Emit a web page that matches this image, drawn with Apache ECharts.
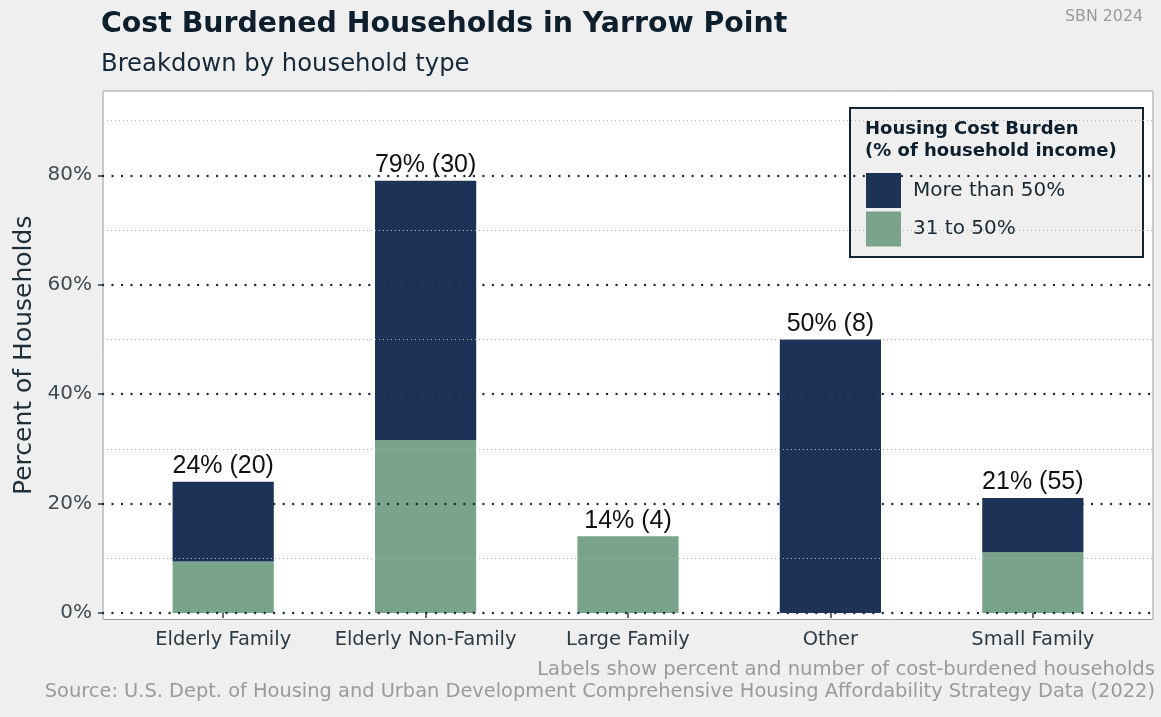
<!DOCTYPE html>
<html><head><meta charset="utf-8">
<script src="https://cdn.jsdelivr.net/npm/echarts@6/dist/echarts.min.js"></script>
<style>html,body{margin:0;padding:0;background:#efefef}#chart{width:1161px;height:717px}</style>
</head><body><div id="chart"></div>
<script>
// Household types on the x axis
const categories = ['Elderly Family', 'Elderly Non-Family', 'Large Family', 'Other', 'Small Family'];
// Percent of households paying 31-50% of income on housing
const share31to50 = [9.4, 31.6, 14, 0, 11.1];
// Percent of households paying more than 50% of income on housing
const shareOver50 = [14.6, 47.4, 0, 50, 9.9];
// Number of cost-burdened households per type
const burdenedCounts = [20, 30, 4, 8, 55];
// Y axis ticks (major) and the in-between reference lines (minor)
const yMajor = [0, 20, 40, 60, 80];
const yMinor = [10, 30, 50, 70, 90];
const seriesNames = ['More than 50%', '31 to 50%'];

const Y_MIN = -1.2, Y_MAX = 95.4;
const FONT = '"DejaVu Sans", "Noto Sans", sans-serif';
const NAVY = '#1c3256';
const GREEN = '#79a48b';

const chart = echarts.init(document.getElementById('chart'), null, { renderer: 'canvas' });

const majorStyle = { color: '#1a2b38', width: 2.4, type: [0.01, 9.5], cap: 'round' };
const minorStyle = { color: '#b3b3b3', width: 1, type: [1, 3] };

const option = {
  backgroundColor: '#efefef',
  animation: false,
  grid: [
    // panel frame and gridlines
    { left: 103, right: 8, top: 91, bottom: 97.5, show: true, backgroundColor: '#ffffff', borderColor: '#9a9a9a', borderWidth: 1, z: 0 },
    // bars
    { left: 122, right: 27, top: 91, bottom: 97.5 }
  ],
  xAxis: [
    { gridIndex: 0, type: 'value', min: 0, max: 1, show: false },
    {
      gridIndex: 1, type: 'category', data: categories,
      axisLine: { show: false },
      axisTick: { show: true, alignWithLabel: true, length: 5, lineStyle: { color: '#2b3a44', width: 1.5 } },
      axisLabel: { interval: 0, fontFamily: FONT, fontSize: 19.5, color: '#2e3b44', margin: 10 }
    }
  ],
  yAxis: [
    {
      gridIndex: 0, type: 'value', min: Y_MIN, max: Y_MAX,
      axisLine: { show: false },
      axisTick: { show: true, customValues: yMajor, length: 5, lineStyle: { color: '#2b3a44', width: 1.5 } },
      axisLabel: { customValues: yMajor, formatter: '{value}%', fontFamily: FONT, fontSize: 20, color: '#3f4b53', margin: 11 },
      splitLine: { show: false },
      name: 'Percent of Households', nameLocation: 'middle', nameGap: 64,
      nameTextStyle: { fontFamily: FONT, fontSize: 25, color: '#1f2f3a' }
    },
    { gridIndex: 1, type: 'value', min: Y_MIN, max: Y_MAX, show: false, splitLine: { show: false } }
  ],
  legend: {
    data: seriesNames, orient: 'vertical', left: 866, top: 173,
    itemWidth: 35, itemHeight: 35, itemGap: 3.5, icon: 'rect', padding: 0, z: 6,
    selectedMode: false,
    textStyle: { fontFamily: FONT, fontSize: 20, color: '#1a2a33', padding: [0, 0, 0, 7] }
  },
  series: [
    {
      name: 'gridlines', type: 'line', xAxisIndex: 0, yAxisIndex: 0, data: [], z: 1, silent: true,
      markLine: {
        silent: true, symbol: ['none', 'none'], label: { show: false }, animation: false,
        emphasis: { disabled: true },
        data: yMinor.map(v => ({ yAxis: v, lineStyle: minorStyle }))
          .concat(yMajor.map(v => ({ yAxis: v, lineStyle: majorStyle })))
      }
    },
    {
      name: '31 to 50%', type: 'bar', xAxisIndex: 1, yAxisIndex: 1, stack: 'burden',
      barWidth: '50%', data: share31to50, z: 3,
      itemStyle: { color: GREEN }
    },
    {
      name: 'More than 50%', type: 'bar', xAxisIndex: 1, yAxisIndex: 1, stack: 'burden',
      barWidth: '50%', data: shareOver50, z: 3,
      itemStyle: { color: NAVY },
      label: {
        show: true, position: 'top', distance: 3,
        fontFamily: '"Liberation Sans", Arial, sans-serif', fontSize: 25, color: '#111111',
        formatter: p => {
          const i = p.dataIndex;
          return Math.round(share31to50[i] + shareOver50[i]) + '% (' + burdenedCounts[i] + ')';
        }
      }
    }
  ],
  graphic: [
    { type: 'text', z: 10, style: { x: 101, y: 25, verticalAlign: 'middle', text: 'Cost Burdened Households in Yarrow Point', font: 'bold 28.4px ' + FONT, fill: '#0d1f2d' } },
    { type: 'text', z: 10, style: { x: 101, y: 65, verticalAlign: 'middle', text: 'Breakdown by household type', font: '24.3px ' + FONT, fill: '#16293a' } },
    { type: 'text', z: 10, style: { x: 1143, y: 17, align: 'right', verticalAlign: 'middle', text: 'SBN 2024', font: '15.8px ' + FONT, fill: '#9a9a9a' } },
    { type: 'rect', z: 5, shape: { x: 850, y: 108, width: 293, height: 149 }, style: { fill: '#efefef', stroke: '#0f2536', lineWidth: 2 } },
    { type: 'text', z: 10, style: { x: 865, y: 129, verticalAlign: 'middle', text: 'Housing Cost Burden', font: 'bold 18px ' + FONT, fill: '#0d1f2d' } },
    { type: 'text', z: 10, style: { x: 865, y: 151, verticalAlign: 'middle', text: '(% of household income)', font: 'bold 18px ' + FONT, fill: '#0d1f2d' } },
    { type: 'text', z: 10, style: { x: 1155, y: 670, align: 'right', verticalAlign: 'middle', text: 'Labels show percent and number of cost-burdened households', font: '19.6px ' + FONT, fill: '#9a9a9a' } },
    { type: 'text', z: 10, style: { x: 1155, y: 692, align: 'right', verticalAlign: 'middle', text: 'Source: U.S. Dept. of Housing and Urban Development Comprehensive Housing Affordability Strategy Data (2022)', font: '19.4px ' + FONT, fill: '#9a9a9a' } }
  ]
};
chart.setOption(option);
</script></body></html>
